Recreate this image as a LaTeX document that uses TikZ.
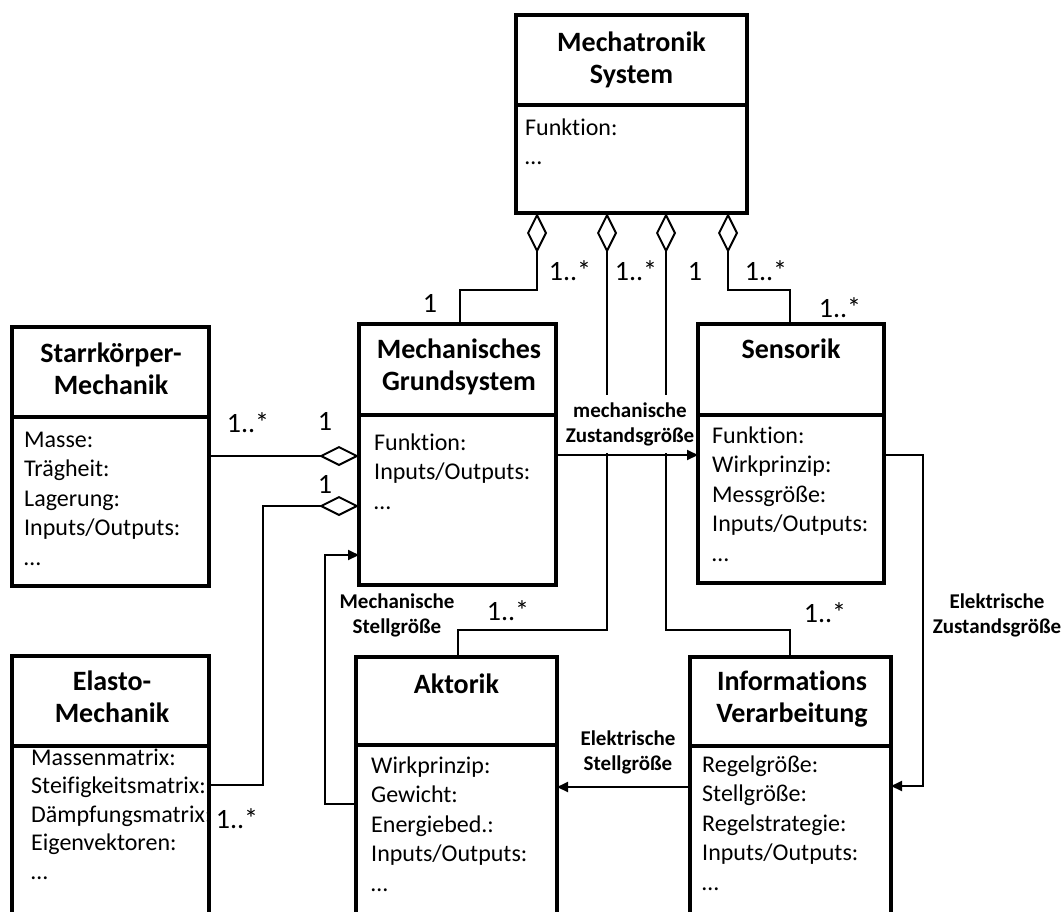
\documentclass[tikz,border=0pt]{standalone}
\usepackage{fontspec}
\setmainfont{Carlito}[Ligatures=NoCommon]
\usetikzlibrary{arrows.meta}
\begin{document}
\begin{tikzpicture}[x=1pt,y=-1pt,
  umlbox/.style={draw, line width=3.5pt, inner sep=0pt, outer sep=0pt, fill=white},
  divline/.style={line width=3.5pt},
  ttl/.style={font=\fontsize{28}{32}\selectfont\bfseries, align=center, anchor=base, inner sep=0pt},
  attr/.style={font=\fontsize{24}{29.5}\selectfont, align=left, anchor=base west, inner sep=0pt},
  mult/.style={font=\fontsize{28}{30}\selectfont, anchor=base, inner sep=0pt},
  flowlbl/.style={font=\fontsize{21}{25}\selectfont\bfseries, align=center, anchor=base, inner sep=0pt},
  agg/.style={line width=2pt, {Diamond[open, length=40pt, width=20pt]}-},
  arr/.style={line width=2pt, -{Triangle[length=11pt, width=10pt]}}
]
\useasboundingbox (0,0) rectangle (1061,911);
\clip (0,0) rectangle (1061,911);

% boxes
\node[umlbox, minimum width=231, minimum height=198] (ms) at (631.5,114) {};
\node[umlbox, minimum width=197, minimum height=261] (mg) at (457.5,454.5) {};
\node[umlbox, minimum width=186, minimum height=259] (sens) at (791,453.5) {};
\node[umlbox, minimum width=197, minimum height=259] (starr) at (110.5,456.5) {};
\node[umlbox, minimum width=197, minimum height=284] (elasto) at (110.5,798) {};
\node[umlbox, minimum width=201, minimum height=283] (akt) at (456.5,798.5) {};
\node[umlbox, minimum width=201, minimum height=283] (info) at (790.5,798.5) {};

% dividers
\draw[divline] (ms.west |- 0,105) -- (ms.east |- 0,105);
\draw[divline] (mg.west |- 0,415) -- (mg.east |- 0,415);
\draw[divline] (sens.west |- 0,415) -- (sens.east |- 0,415);
\draw[divline] (starr.west |- 0,417) -- (starr.east |- 0,417);
\draw[divline] (elasto.west |- 0,746) -- (elasto.east |- 0,746);
\draw[divline] (akt.west |- 0,745) -- (akt.east |- 0,745);
\draw[divline] (info.west |- 0,746) -- (info.east |- 0,746);

% titles (base anchor = baseline of last line)
\node[ttl] (ms-t) at (631.5,83) {Mechatronik\\System};
\node[ttl] (mg-t) at (459,390) {Mechanisches\\Grundsystem};
\node[ttl] (sens-t) at (791,358) {Sensorik};
\node[ttl] (starr-t) at (111,394) {Starrkörper-\\Mechanik};
\node[ttl] (elasto-t) at (112,722) {Elasto-\\Mechanik};
\node[ttl] (akt-t) at (456.5,693) {Aktorik};
\node[ttl] (info-t) at (792,722) {Informations\\Verarbeitung};

% attributes (base anchor = baseline of last line)
\node[attr] (ms-a) at (525,164.5) {Funktion:\\…};
\node[attr] (mg-a) at (374,509) {Funktion:\\Inputs/Outputs:\\…};
\node[attr] (sens-a) at (712,561) {Funktion:\\Wirkprinzip:\\Messgröße:\\Inputs/Outputs:\\…};
\node[attr] (starr-a) at (24,565) {Masse:\\Trägheit:\\Lagerung:\\Inputs/Outputs:\\…};
\node[attr, font=\fontsize{24}{28.5}\selectfont] (elasto-a) at (31,879) {Massenmatrix:\\Steifigkeitsmatrix:\\Dämpfungsmatrix:\\Eigenvektoren:\\…};
\node[attr] (akt-a) at (371,891) {Wirkprinzip:\\Gewicht:\\Energiebed.:\\Inputs/Outputs:\\…};
\node[attr] (info-a) at (702,890) {Regelgröße:\\Stellgröße:\\Regelstrategie:\\Inputs/Outputs:\\…};

% aggregations from Mechatronik System
\draw[agg] (ms.south -| 537,0) |- (460,290) -- (mg.north -| 460,0);
\draw[agg] (ms.south -| 607,0) |- (458,630) -- (akt.north -| 458,0);
\draw[agg] (ms.south -| 666,0) |- (790,630) -- (info.north -| 790,0);
\draw[agg] (ms.south -| 728,0) |- (790,290) -- (sens.north -| 790,0);

% aggregations into Mechanisches Grundsystem
\draw[agg] (mg.west |- 0,456) -- (starr.east |- 0,456);
\draw[agg] (mg.west |- 0,506) -| (263,785) -- (elasto.east |- 0,785);

% label with white background over crossing lines
\node[flowlbl, anchor=center, fill=white, inner xsep=1pt, minimum height=58] (mz) at (630,424) {mechanische\\Zustandsgröße};

% signal flows
\draw[arr] (mg.east |- 0,455) -- (sens.west |- 0,455);
\draw[arr] (sens.east |- 0,455) -| (923,786) -- (info.east |- 0,786);
\draw[arr] (info.west |- 0,787) -- (akt.east |- 0,787);
\draw[arr] (akt.west |- 0,804) -| (325,555) -- (mg.west |- 0,555);

% flow labels
\node[flowlbl] (ms-lbl) at (397,633) {Mechanische\\Stellgröße};
\node[flowlbl] (es-lbl) at (628,770) {Elektrische\\Stellgröße};
\node[flowlbl] (ez-lbl) at (997,633) {Elektrische\\Zustandsgröße};

% multiplicities
\node[mult] (m1) at (570,280) {1..*};
\node[mult] (m2) at (636,280) {1..*};
\node[mult] (m3) at (695,280) {1};
\node[mult] (m4) at (766,280) {1..*};
\node[mult] (m5) at (430,312) {1};
\node[mult] (m6) at (840,317) {1..*};
\node[mult] (m7) at (248,432) {1..*};
\node[mult] (m8) at (325,430) {1};
\node[mult] (m9) at (325,493) {1};
\node[mult] (m10) at (237,828) {1..*};
\node[mult] (m11) at (508,620) {1..*};
\node[mult] (m12) at (825,622) {1..*};
\end{tikzpicture}
\end{document}
